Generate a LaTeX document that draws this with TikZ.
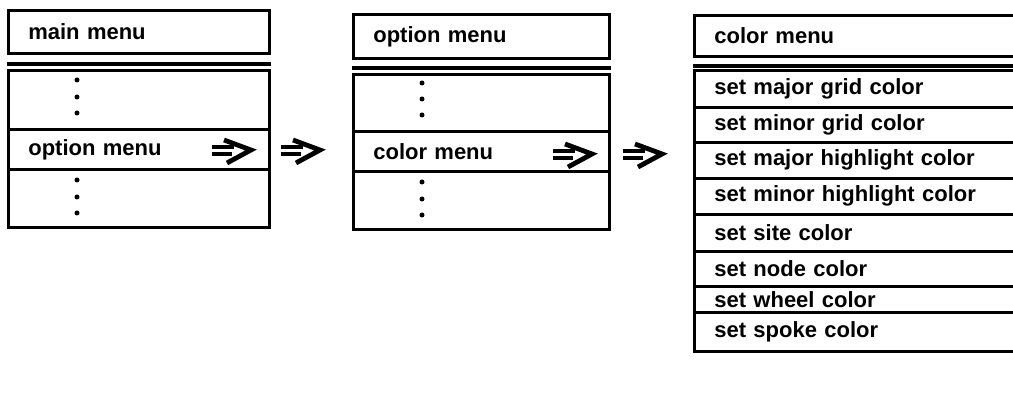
\documentclass[tikz,border=0pt]{standalone}
\usepackage{fontspec}
\newfontfamily\menufont{Liberation Sans Bold}
\usetikzlibrary{positioning}
\newdimen\pxu
\pxu=0.75pt

\begin{document}
\begin{tikzpicture}[
    x=0.75pt, y=-0.75pt,
    every node/.style={rectangle, draw, line width=2pt, anchor=north west,
        inner xsep=15pt, inner ysep=0pt, align=left,
        font=\menufont\fontsize{16.5}{19}\selectfont},
    sepline/.style={line width=2.8pt},
    dot/.style={fill=black},
    dblarrow/.pic={
        \draw[line width=3pt] (-20,-4) -- (2,-4);
        \draw[line width=3pt] (-20,3) -- (0,3);
        \draw[line width=3.6pt, line join=miter] (-8,-11) -- (19,-1) -- (-5,12);
    }
]
    \useasboundingbox (0,0) rectangle (1013,409);
    \clip (0,0) rectangle (1013,409);

    % Main menu
    \node (mtitle) at (7,9) [minimum height=43\pxu, text width=221\pxu] {main menu};
    \draw[sepline] ([yshift=-7pt]mtitle.south west) -- ([yshift=-7pt]mtitle.south east);
    \node (mrowa) at (7,69) [minimum height=59\pxu, text width=221\pxu] {};
    \node (mrowb) at (7,128) [minimum height=40\pxu, text width=221\pxu] {option menu};
    \node (mrowc) at (7,168) [minimum height=58\pxu, text width=221\pxu] {};
    \foreach \y in {80,97,113,180,197,213}
        \fill[dot] (77,\y) circle (2.5);
    \pic at (232,151) {dblarrow};

    % Arrow to option menu
    \pic at (301,151) {dblarrow};

    % Option menu
    \node (otitle) at (352,13) [minimum height=44\pxu, text width=216\pxu] {option menu};
    \draw[sepline] ([yshift=-6pt]otitle.south west) -- ([yshift=-6pt]otitle.south east);
    \node (orowa) at (352,73) [minimum height=57\pxu, text width=216\pxu] {};
    \node (orowb) at (352,130) [minimum height=40\pxu, text width=216\pxu] {color menu};
    \node (orowc) at (352,170) [minimum height=58\pxu, text width=216\pxu] {};
    \foreach \y in {83,99,115,182,199,215}
        \fill[dot] (422,\y) circle (2.5);
    \pic at (573,155) {dblarrow};

    % Arrow to color menu
    \pic at (643,155) {dblarrow};

    % Color menu
    \node (ctitle) at (693,14) [minimum height=41\pxu, text width=300\pxu] {color menu};
    \draw[sepline] ([yshift=-6pt]ctitle.south west) -- ([yshift=-6pt]ctitle.south east);
    \node (crowa) at (693,69) [minimum height=37\pxu, text width=300\pxu] {set major grid color};
    \node (crowb) at (693,106) [minimum height=35\pxu, text width=300\pxu] {set minor grid color};
    \node (crowc) at (693,141) [minimum height=36\pxu, text width=300\pxu] {set major highlight color};
    \node (crowd) at (693,177) [minimum height=36\pxu, text width=300\pxu] {set minor highlight color};
    \node (crowe) at (693,213) [minimum height=37\pxu, text width=300\pxu] {set site color};
    \node (crowf) at (693,250) [minimum height=35\pxu, text width=300\pxu] {set node color};
    \node (crowg) at (693,285) [minimum height=26\pxu, text width=300\pxu] {set wheel color};
    \node (crowh) at (693,311) [minimum height=39\pxu, text width=300\pxu] {set spoke color};
\end{tikzpicture}
\end{document}
